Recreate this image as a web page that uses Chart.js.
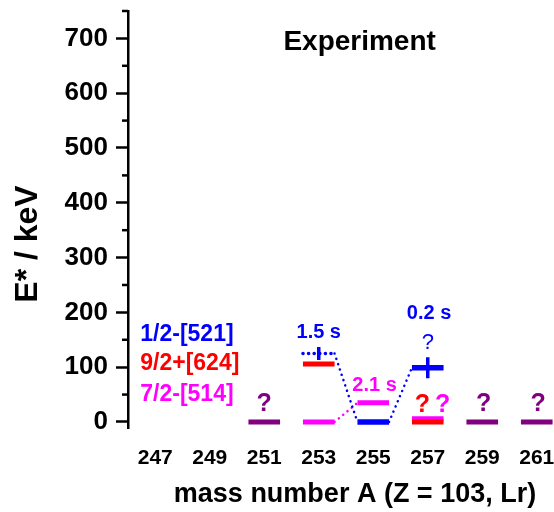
<!DOCTYPE html>
<html>
<head>
<meta charset="utf-8">
<script src="https://cdn.jsdelivr.net/npm/chart.js@4"></script>
<style>
    html, body { margin: 0; padding: 0; background: #fff; overflow: hidden; }
    #levels { display: block; }
</style>
</head>
<body>
<canvas id="levels" width="564" height="512"></canvas>
<script>
// Axis ticks
const massTicks = [247, 249, 251, 253, 255, 257, 259, 261];
const energyTicks = [0, 50, 100, 150, 200, 250, 300, 350, 400, 450, 500, 550, 600, 650, 700, 750];

// Levels per configuration (mass number, E* in keV, error in keV)
const blueMass = [253, 255, 257];          // 1/2-[521]
const blueEnergy = [125, 0, 99];
const blueError = [12, 0, 19];
const blueTentative = [true, false, false];
const redMass = [253, 257];                // 9/2+[624]
const redEnergy = [106, 0];
const pinkMass = [253, 255, 257];          // 7/2-[514]
const pinkEnergy = [0, 35, 6];
const unknownMass = [251, 259, 261];       // ground state, unknown config
const unknownEnergy = [0, 0, 0];

// Decay links (from mass -> to mass)
const blueLinks = [[253, 255], [255, 257]];
const pinkLinks = [[253, 255]];

// Text labels placed in data units
const notes = [
    { text: 'Experiment', x: 254.5, y: 693, color: '#000', size: 28, align: 'center' },
    { text: '1/2-[521]', x: 246.45, y: 159, color: '#0000ff', size: 23, align: 'left' },
    { text: '9/2+[624]', x: 246.45, y: 106, color: '#ff0000', size: 23, align: 'left' },
    { text: '7/2-[514]', x: 246.45, y: 49, color: '#ff00ff', size: 23, align: 'left' },
    { text: '1.5 s', x: 253.0, y: 163, color: '#0000ff', size: 20, align: 'center' },
    { text: '2.1 s', x: 255.05, y: 66, color: '#ff00ff', size: 20, align: 'center' },
    { text: '0.2 s', x: 257.05, y: 198, color: '#0000ff', size: 20, align: 'center' },
    { text: '?', x: 257.0, y: 144, color: '#0000ff', size: 22, align: 'center', weight: 'normal' },
    { text: '?', x: 251.0, y: 33, color: '#800080', size: 25, align: 'center' },
    { text: '?', x: 256.8, y: 30, color: '#ff0000', size: 25, align: 'center' },
    { text: '?', x: 257.55, y: 30, color: '#ff00ff', size: 25, align: 'center' },
    { text: '?', x: 259.05, y: 33, color: '#800080', size: 25, align: 'center' },
    { text: '?', x: 261.05, y: 33, color: '#800080', size: 25, align: 'center' }
];

const xTitle = 'mass number A (Z = 103, Lr)';
const yTitle = 'E* / keV';

const HALF = 0.58;   // half width of a level bar, in mass units
const FONT = 'Liberation Sans, Arial, sans-serif';

function levelBars(masses, energies, keep) {
    const pts = [];
    masses.forEach((m, i) => {
        if (keep && !keep[i]) return;
        pts.push({ x: m - HALF, y: energies[i] }, { x: m + HALF, y: energies[i] }, { x: m + HALF, y: null });
    });
    return pts;
}

function linkLines(masses, energies, links) {
    const pts = [];
    links.forEach(([a, b]) => {
        const ia = masses.indexOf(a), ib = masses.indexOf(b);
        pts.push({ x: a + HALF, y: energies[ia] }, { x: b - HALF, y: energies[ib] }, { x: b - HALF, y: null });
    });
    return pts;
}

function errorBars(masses, energies, errors) {
    const pts = [];
    masses.forEach((m, i) => {
        if (!errors[i]) return;
        pts.push({ x: m, y: energies[i] - errors[i] }, { x: m, y: energies[i] + errors[i] }, { x: m, y: null });
    });
    return pts;
}

function lineSet(data, color, width, dotted) {
    return {
        type: 'line',
        data: data,
        borderColor: color,
        borderWidth: width,
        borderDash: dotted ? [0.1, 5.5] : [],
        borderCapStyle: dotted ? 'round' : 'butt',
        pointRadius: 0,
        spanGaps: false,
        fill: false
    };
}

const solidBlue = blueTentative.map(t => !t);

const datasets = [
    lineSet(linkLines(blueMass, blueEnergy, blueLinks), '#0000ff', 2.5, true),
    lineSet(linkLines(pinkMass, pinkEnergy, pinkLinks), '#ff00ff', 2.5, true),
    lineSet(levelBars(unknownMass, unknownEnergy), '#800080', 5),
    lineSet(levelBars(redMass, redEnergy), '#ff0000', 5),
    lineSet(levelBars(pinkMass, pinkEnergy), '#ff00ff', 5),
    lineSet(levelBars(blueMass, blueEnergy, solidBlue), '#0000ff', 5.5),
    lineSet(levelBars(blueMass, blueEnergy, blueTentative), '#0000ff', 3.5, true),
    lineSet(errorBars(blueMass, blueEnergy, blueError), '#0000ff', 3.5)
];

// Minor ticks are shorter than the major ones
const minorTicks = {
    id: 'minorTicks',
    afterDraw(chart) {
        const y = chart.scales.y;
        const ctx = chart.ctx;
        const left = chart.chartArea.left;
        ctx.save();
        ctx.strokeStyle = '#000';
        ctx.lineWidth = 2.5;
        energyTicks.forEach(v => {
            if (v % 100 === 0) return;
            const py = y.getPixelForValue(v);
            ctx.beginPath();
            ctx.moveTo(left - 6, py);
            ctx.lineTo(left, py);
            ctx.stroke();
        });
        ctx.restore();
    }
};

// Axis titles and the in-plot texts
const noteLabels = {
    id: 'noteLabels',
    afterDatasetsDraw(chart) {
        const ctx = chart.ctx;
        const xs = chart.scales.x, ys = chart.scales.y;
        const area = chart.chartArea;
        ctx.save();
        ctx.textBaseline = 'middle';
        notes.forEach(n => {
            ctx.font = (n.weight || 'bold') + ' ' + n.size + 'px ' + FONT;
            ctx.fillStyle = n.color;
            ctx.textAlign = n.align;
            ctx.fillText(n.text, xs.getPixelForValue(n.x), ys.getPixelForValue(n.y));
        });

        ctx.fillStyle = '#000';
        ctx.textAlign = 'center';
        ctx.font = 'bold 27px ' + FONT;
        ctx.fillText(xTitle, (area.left + area.right) / 2 + 9, 495);

        ctx.translate(28, area.bottom - 184);
        ctx.rotate(-Math.PI / 2);
        ctx.font = 'bold 32px ' + FONT;
        ctx.fillText(yTitle, 0, 0);
        ctx.restore();
    }
};

function noPadding(scale) {
    scale.paddingTop = 0;
    scale.paddingBottom = 0;
    scale.paddingLeft = 0;
    scale.paddingRight = 0;
}

new Chart(document.getElementById('levels').getContext('2d'), {
    type: 'line',
    data: { datasets: datasets },
    options: {
        responsive: false,
        animation: false,
        events: [],
        layout: { padding: { top: 11, left: 0, right: 0, bottom: 0 } },
        plugins: {
            legend: { display: false },
            tooltip: { enabled: false }
        },
        scales: {
            x: {
                type: 'linear',
                min: 246,
                max: 262,
                afterBuildTicks: scale => { scale.ticks = massTicks.map(v => ({ value: v })); },
                afterFit: scale => { scale.height = 84; noPadding(scale); },
                grid: { display: false, drawTicks: false },
                border: { display: false },
                ticks: {
                    padding: 18,
                    color: '#000',
                    font: { family: FONT, size: 21, weight: 'bold' },
                    callback: v => String(v),
                    maxRotation: 0,
                    autoSkip: false
                }
            },
            y: {
                type: 'linear',
                min: -11,
                max: 750,
                afterBuildTicks: scale => { scale.ticks = energyTicks.map(v => ({ value: v })); },
                afterFit: scale => { scale.width = 128; noPadding(scale); },
                grid: {
                    drawOnChartArea: false,
                    drawTicks: true,
                    tickLength: 12,
                    tickWidth: 2.5,
                    tickColor: c => (c.tick && c.tick.value % 100 !== 0) ? 'rgba(0,0,0,0)' : '#000'
                },
                border: { display: true, color: '#000', width: 2.5 },
                ticks: {
                    padding: 8,
                    color: '#000',
                    font: { family: FONT, size: 26, weight: 'bold' },
                    callback: v => (v % 100 === 0 ? String(v) : ''),
                    autoSkip: false
                }
            }
        }
    },
    plugins: [minorTicks, noteLabels]
});
</script>
</body>
</html>
